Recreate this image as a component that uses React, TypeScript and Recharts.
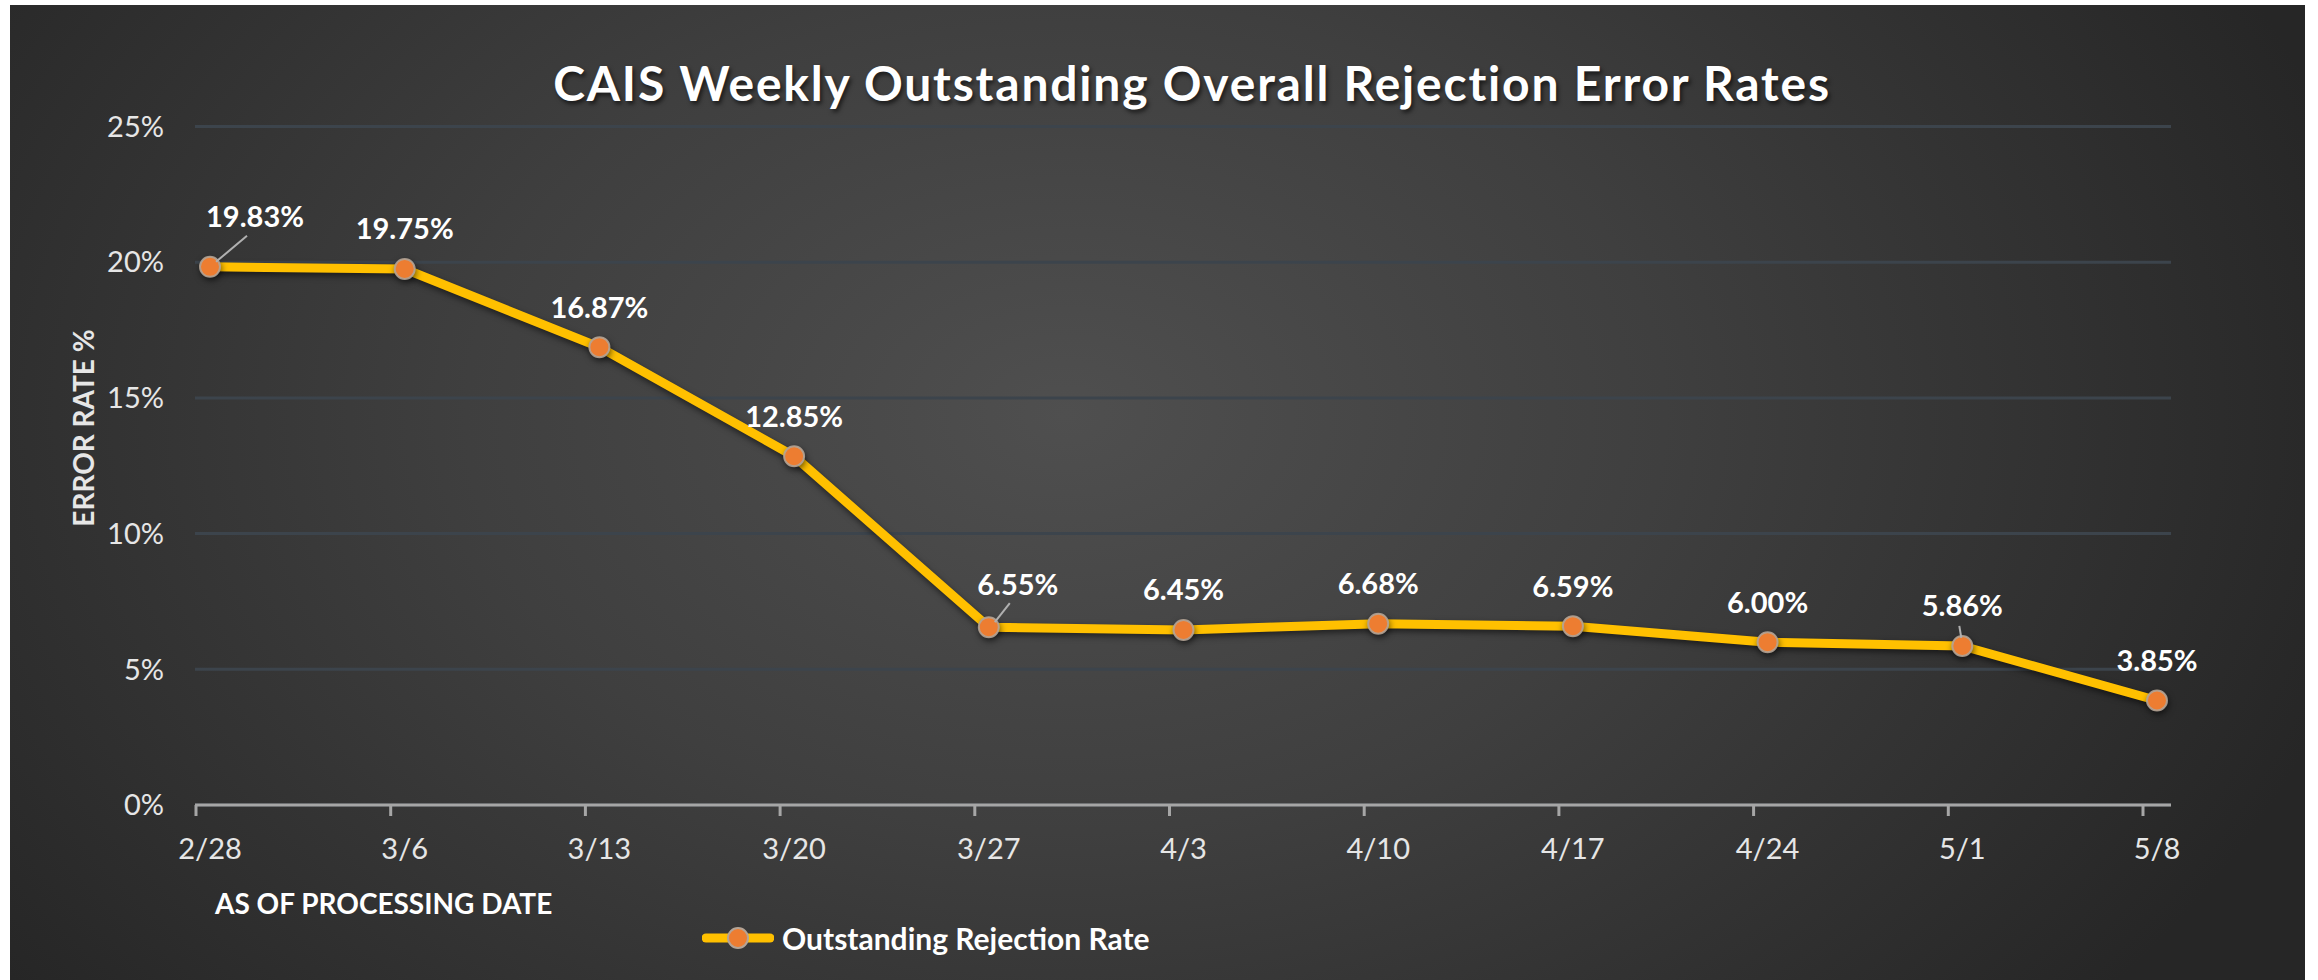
import { LineChart, Line, XAxis, YAxis, CartesianGrid, LabelList } from 'recharts';

const dates = ['2/28', '3/6', '3/13', '3/20', '3/27', '4/3', '4/10', '4/17', '4/24', '5/1', '5/8'];
const rates = [19.83, 19.75, 16.87, 12.85, 6.55, 6.45, 6.68, 6.59, 6.0, 5.86, 3.85];
const yTicks = [0, 5, 10, 15, 20, 25];

const SERIES_NAME = 'Outstanding Rejection Rate';
const LINE_COLOR = '#FFC000';
const DOT_COLOR = '#ED7D31';
const FONT = 'Lato, "Open Sans", sans-serif';

const data = dates.map((d, i) => ({ date: d, rate: rates[i] }));

// labels Excel pushed aside (with a leader line back to the point)
const NUDGE: Record<number, [number, number]> = { 0: [45, -10], 4: [29, -3] };

function DataLabel(props: any) {
  const { x, y, value, index } = props;
  const [dx, dy] = NUDGE[index] ?? [0, 0];
  const lx = x + dx;
  const ly = y - 41 + dy;
  return (
    <g>
      {index in NUDGE && (
        <line x1={x + 6} y1={y - 5} x2={lx - 8} y2={ly + 20} stroke="#b0b0b0" strokeWidth={2} />
      )}
      {index === 9 && <line x1={x - 1} y1={y - 8} x2={x - 3} y2={y - 20} stroke="#b0b0b0" strokeWidth={2} />}
      <text
        x={lx}
        y={ly}
        textAnchor="middle"
        dominantBaseline="central"
        fill="#ffffff"
        fontFamily={FONT}
        fontWeight={700}
        fontSize={29}
      >
        {Number(value).toFixed(2)}%
      </text>
    </g>
  );
}

function XTick(props: any) {
  const { x, y, payload } = props;
  return (
    <g>
      <line x1={x - 14} y1={y} x2={x - 14} y2={y + 11} stroke="#a6a6a6" strokeWidth={3} />
      <text
        x={x}
        y={y + 42}
        textAnchor="middle"
        dominantBaseline="central"
        fill="#e6e6e6"
        fontFamily={FONT}
        fontSize={29}
      >
        {payload.value}
      </text>
    </g>
  );
}

function LegendBox() {
  return (
    <div
      style={{
        position: 'absolute',
        left: 702,
        top: 920,
        display: 'flex',
        alignItems: 'center',
        fontFamily: FONT,
      }}
    >
      <svg width={72} height={36}>
        <line x1={4} y1={18} x2={68} y2={18} stroke={LINE_COLOR} strokeWidth={9} strokeLinecap="round" />
        <circle cx={36} cy={18} r={10} fill={DOT_COLOR} stroke="#b4a496" strokeWidth={2} />
      </svg>
      <span style={{ color: '#ffffff', fontWeight: 700, fontSize: 30, marginLeft: 8 }}>{SERIES_NAME}</span>
    </div>
  );
}

export default function App() {
  return (
    <div style={{ position: 'relative', width: 2318, height: 980, background: '#ffffff', overflow: 'hidden' }}>
      <style>{'body{margin:0}'}</style>
      <div
        style={{
          position: 'absolute',
          left: 10,
          top: 5,
          width: 2295,
          height: 975,
          background: 'radial-gradient(ellipse 58% 95% at 46% 42%, #4f4f4f 0%, #3f3f3f 45%, #262626 100%)',
        }}
      />
      <div
        style={{
          position: 'absolute',
          left: 0,
          width: 2384,
          top: 54,
          textAlign: 'center',
          color: '#ffffff',
          fontFamily: FONT,
          fontWeight: 700,
          fontSize: 48,
          letterSpacing: 1.8,
          textShadow: '2px 3px 4px rgba(0,0,0,0.6)',
          lineHeight: '58px',
        }}
      >
        CAIS Weekly Outstanding Overall Rejection Error Rates
      </div>
      <div
        style={{
          position: 'absolute',
          left: 83,
          top: 428,
          transform: 'translate(-50%, -50%) rotate(-90deg)',
          whiteSpace: 'nowrap',
          color: '#e6e6e6',
          fontFamily: FONT,
          fontWeight: 700,
          fontSize: 28,
        }}
      >
        ERROR RATE %
      </div>
      <div
        style={{
          position: 'absolute',
          left: 215,
          top: 886,
          whiteSpace: 'nowrap',
          color: '#ffffff',
          fontFamily: FONT,
          fontWeight: 700,
          fontSize: 28,
        }}
      >
        AS OF PROCESSING DATE
      </div>
      <LegendBox />
      <div style={{ position: 'absolute', left: 0, top: 0 }}>
        <LineChart width={2318} height={980} data={data} margin={{ top: 126.5, right: 147, bottom: 0, left: 0 }}>
          <CartesianGrid horizontal vertical={false} stroke="#3c444c" strokeWidth={3} />
          <XAxis
            dataKey="date"
            height={175}
            padding={{ left: 15, right: 14 }}
            axisLine={{ stroke: '#a6a6a6', strokeWidth: 3 }}
            tickLine={false}
            tickSize={0}
            tickMargin={0}
            tick={<XTick />}
            interval={0}
          />
          <YAxis
            width={195}
            domain={[0, 25]}
            ticks={yTicks}
            tickFormatter={(v) => `${v}%`}
            axisLine={false}
            tickLine={false}
            tickSize={0}
            tickMargin={31}
            tick={{ fill: '#e6e6e6', fontSize: 29, fontFamily: FONT }}
          />
          <Line
            type="linear"
            dataKey="rate"
            name={SERIES_NAME}
            stroke={LINE_COLOR}
            strokeWidth={9}
            strokeLinejoin="round"
            style={{ filter: 'drop-shadow(1px 3px 3px rgba(0,0,0,0.55))' }}
            dot={{ r: 10, fill: DOT_COLOR, stroke: '#b4a496', strokeWidth: 2, strokeOpacity: 0.9 }}
            activeDot={false}
            isAnimationActive={false}
          >
            <LabelList dataKey="rate" content={<DataLabel />} />
          </Line>
        </LineChart>
      </div>
    </div>
  );
}
